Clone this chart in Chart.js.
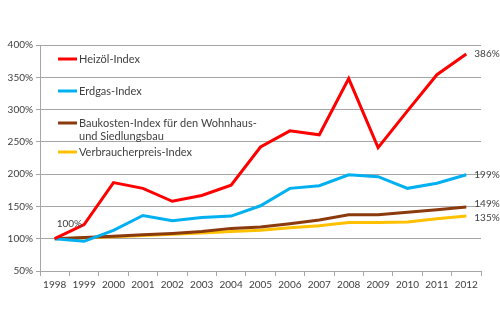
<!DOCTYPE html>
<html>
<head>
<meta charset="utf-8">
<script src="https://cdn.jsdelivr.net/npm/chart.js@4"></script>
<style>
  html, body { margin:0; padding:0; background:#fff; }
  #wrap { width:500px; height:333px; position:relative; }
</style>
</head>
<body>
<div id="wrap"><canvas id="c" width="500" height="333"></canvas></div>
<script>
const years     = ['1998','1999','2000','2001','2002','2003','2004','2005','2006','2007','2008','2009','2010','2011','2012'];
const heizoel   = [100,122,187,178,158,167,183,242,267,261,348,241,298,354,386];
const erdgas    = [100,96,113,136,128,133,135,151,178,182,199,196,178,186,199];
const baukosten = [100,102,104,106,108,111,116,118,123,129,137,137,141,145,149];
const vpi       = [100,101,103,105,107,109,111,113,117,120,125,125,126,131,135];
const seriesNames = ['Heizöl-Index', 'Erdgas-Index', ['Baukosten-Index für den Wohnhaus-', 'und Siedlungsbau'], 'Verbraucherpreis-Index'];
const yTicks    = [50,100,150,200,250,300,350,400];

const FONT = 'Lato, "Open Sans", sans-serif';
const TXT  = '#404040';

// legend drawn inside the plot, top left
const innerLegend = {
  id: 'innerLegend',
  afterDraw(chart) {
    const ctx = chart.ctx, a = chart.chartArea;
    const rows = [14, 46, 78, 107];
    ctx.save();
    ctx.font = '11px ' + FONT;
    ctx.fillStyle = TXT;
    ctx.textBaseline = 'middle';
    chart.data.datasets.forEach((ds, i) => {
      const y = a.top + rows[i];
      ctx.strokeStyle = ds.borderColor;
      ctx.lineWidth = 3;
      ctx.beginPath(); ctx.moveTo(a.left + 18, y); ctx.lineTo(a.left + 37, y); ctx.stroke();
      const lines = Array.isArray(ds.label) ? ds.label : [ds.label];
      lines.forEach((t, j) => ctx.fillText(t, a.left + 39, y + j * 13));
    });
    ctx.restore();
  }
};

// value labels at start and end points
const endLabels = {
  id: 'endLabels',
  afterDatasetsDraw(chart) {
    const ctx = chart.ctx;
    ctx.save();
    ctx.font = '10px ' + FONT;
    ctx.fillStyle = TXT;
    ctx.textBaseline = 'middle';
    const offs = [0, 0, -3, 2];
    chart.data.datasets.forEach((ds, i) => {
      const meta = chart.getDatasetMeta(i);
      const last = meta.data[meta.data.length - 1];
      ctx.fillText(ds.data[ds.data.length - 1] + '%', last.x + 8, last.y + offs[i]);
    });
    const p0 = chart.getDatasetMeta(0).data[0];
    ctx.fillText(heizoel[0] + '%', p0.x + 2, p0.y - 15);
    ctx.restore();
  }
};

new Chart(document.getElementById('c'), {
  type: 'line',
  data: {
    labels: years,
    datasets: [
      { label: seriesNames[0], data: heizoel,   borderColor: '#FF0000', borderWidth: 3 },
      { label: seriesNames[1], data: erdgas,    borderColor: '#00B0F0', borderWidth: 3 },
      { label: seriesNames[2], data: baukosten, borderColor: '#8B3A0E', borderWidth: 3 },
      { label: seriesNames[3], data: vpi,       borderColor: '#FFC000', borderWidth: 3 }
    ].map(d => Object.assign(d, { pointRadius: 0, tension: 0, fill: false }))
  },
  options: {
    responsive: false,
    animation: false,
    layout: { padding: { top: 45, right: 19, bottom: 37, left: 0 } },
    plugins: { legend: { display: false }, tooltip: { enabled: false } },
    scales: {
      x: {
        offset: true,
        grid: { offset: true, drawOnChartArea: false, color: '#A6A6A6', tickLength: 5 },
        border: { color: '#A6A6A6' },
        ticks: { color: TXT, font: { family: FONT, size: 10 }, maxRotation: 0, autoSkip: false, padding: 3 },
        afterFit: s => { s.height = 25; }
      },
      y: {
        min: 50, max: 400,
        afterBuildTicks: s => { s.ticks = yTicks.map(v => ({ value: v })); },
        grid: { color: '#A6A6A6', tickLength: 4 },
        border: { color: '#A6A6A6' },
        ticks: { color: TXT, font: { family: FONT, size: 10 }, padding: 3, callback: v => v + '%' },
        afterFit: s => { s.width = 40; }
      }
    }
  },
  plugins: [innerLegend, endLabels]
});
</script>
</body>
</html>
